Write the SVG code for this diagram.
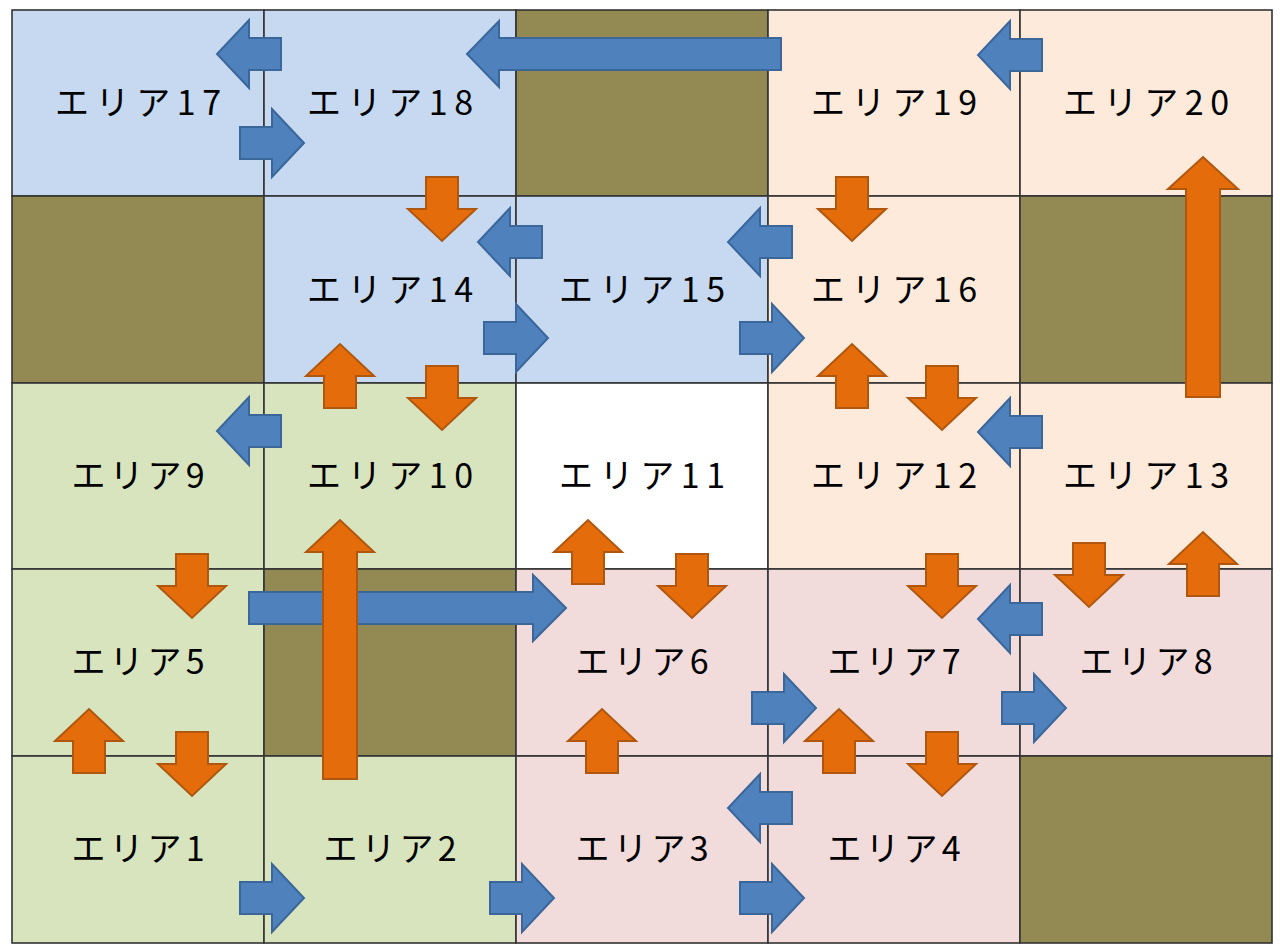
<svg xmlns="http://www.w3.org/2000/svg" xmlns:xlink="http://www.w3.org/1999/xlink" width="1280" height="950" viewBox="0 0 1280 950">
<style>
.cell{stroke:#333333;stroke-width:1.6}
.blue{fill:#C6D9F1}.peach{fill:#FDEADA}.green{fill:#D7E4BD}.pink{fill:#F2DCDB}.white{fill:#FFFFFF}.wall{fill:#938953}
.lbl{font-family:"Noto Sans CJK JP","Noto Sans",sans-serif;font-size:34px;fill:#000;text-anchor:middle}
.ab{fill:#4F81BD;stroke:#3A669A;stroke-width:2}
.ao{fill:#E46C0A;stroke:#B0570F;stroke-width:2}
</style>
<defs>
<path id="arr" d="M0,-16 H32 V-34 L64,0 L32,34 V16 H0 Z"/>
</defs>
<rect width="1280" height="950" fill="#ffffff"/>
<g id="cells">
<g id="area17"><rect class="cell blue" x="12" y="10" width="252" height="186"/><text class="lbl" x="138" y="115" textLength="166" lengthAdjust="spacing">エリア17</text></g>
<g id="area18"><rect class="cell blue" x="264" y="10" width="252" height="186"/><text class="lbl" x="390" y="115" textLength="166" lengthAdjust="spacing">エリア18</text></g>
<g id="wall-r1c3"><rect class="cell wall" x="516" y="10" width="252" height="186"/></g>
<g id="area19"><rect class="cell peach" x="768" y="10" width="252" height="186"/><text class="lbl" x="894" y="115" textLength="166" lengthAdjust="spacing">エリア19</text></g>
<g id="area20"><rect class="cell peach" x="1020" y="10" width="252" height="186"/><text class="lbl" x="1146" y="115" textLength="166" lengthAdjust="spacing">エリア20</text></g>

<g id="wall-r2c1"><rect class="cell wall" x="12" y="196" width="252" height="187"/></g>
<g id="area14"><rect class="cell blue" x="264" y="196" width="252" height="187"/><text class="lbl" x="390" y="302" textLength="166" lengthAdjust="spacing">エリア14</text></g>
<g id="area15"><rect class="cell blue" x="516" y="196" width="252" height="187"/><text class="lbl" x="642" y="302" textLength="166" lengthAdjust="spacing">エリア15</text></g>
<g id="area16"><rect class="cell peach" x="768" y="196" width="252" height="187"/><text class="lbl" x="894" y="302" textLength="166" lengthAdjust="spacing">エリア16</text></g>
<g id="wall-r2c5"><rect class="cell wall" x="1020" y="196" width="252" height="187"/></g>

<g id="area9"><rect class="cell green" x="12" y="383" width="252" height="186"/><text class="lbl" x="138" y="488" textLength="133" lengthAdjust="spacing">エリア9</text></g>
<g id="area10"><rect class="cell green" x="264" y="383" width="252" height="186"/><text class="lbl" x="390" y="488" textLength="166" lengthAdjust="spacing">エリア10</text></g>
<g id="area11"><rect class="cell white" x="516" y="383" width="252" height="186"/><text class="lbl" x="642" y="488" textLength="166" lengthAdjust="spacing">エリア11</text></g>
<g id="area12"><rect class="cell peach" x="768" y="383" width="252" height="186"/><text class="lbl" x="894" y="488" textLength="166" lengthAdjust="spacing">エリア12</text></g>
<g id="area13"><rect class="cell peach" x="1020" y="383" width="252" height="186"/><text class="lbl" x="1146" y="488" textLength="166" lengthAdjust="spacing">エリア13</text></g>

<g id="area5"><rect class="cell green" x="12" y="569" width="252" height="187"/><text class="lbl" x="138" y="674" textLength="133" lengthAdjust="spacing">エリア5</text></g>
<g id="wall-r4c2"><rect class="cell wall" x="264" y="569" width="252" height="187"/></g>
<g id="area6"><rect class="cell pink" x="516" y="569" width="252" height="187"/><text class="lbl" x="642" y="674" textLength="133" lengthAdjust="spacing">エリア6</text></g>
<g id="area7"><rect class="cell pink" x="768" y="569" width="252" height="187"/><text class="lbl" x="894" y="674" textLength="133" lengthAdjust="spacing">エリア7</text></g>
<g id="area8"><rect class="cell pink" x="1020" y="569" width="252" height="187"/><text class="lbl" x="1146" y="674" textLength="133" lengthAdjust="spacing">エリア8</text></g>

<g id="area1"><rect class="cell green" x="12" y="756" width="252" height="187"/><text class="lbl" x="138" y="861" textLength="133" lengthAdjust="spacing">エリア1</text></g>
<g id="area2"><rect class="cell green" x="264" y="756" width="252" height="187"/><text class="lbl" x="390" y="861" textLength="133" lengthAdjust="spacing">エリア2</text></g>
<g id="area3"><rect class="cell pink" x="516" y="756" width="252" height="187"/><text class="lbl" x="642" y="861" textLength="133" lengthAdjust="spacing">エリア3</text></g>
<g id="area4"><rect class="cell pink" x="768" y="756" width="252" height="187"/><text class="lbl" x="894" y="861" textLength="133" lengthAdjust="spacing">エリア4</text></g>
<g id="wall-r5c5"><rect class="cell wall" x="1020" y="756" width="252" height="187"/></g>
</g>

<g id="connectors">
<use xlink:href="#arr" class="ab" transform="translate(281,54) rotate(180)"/>
<use xlink:href="#arr" class="ab" transform="translate(240,143)"/>
<path class="ab" d="M0,-16 H282 V-33 L314,0 L282,33 V16 H0 Z" transform="translate(781,54) rotate(180)"/>
<use xlink:href="#arr" class="ab" transform="translate(1042,55) rotate(180)"/>
<use xlink:href="#arr" class="ab" transform="translate(542,242) rotate(180)"/>
<use xlink:href="#arr" class="ab" transform="translate(792,242) rotate(180)"/>
<use xlink:href="#arr" class="ab" transform="translate(484,338)"/>
<use xlink:href="#arr" class="ab" transform="translate(740,338)"/>
<use xlink:href="#arr" class="ab" transform="translate(281,431) rotate(180)"/>
<use xlink:href="#arr" class="ab" transform="translate(1042,432) rotate(180)"/>
<path class="ab" d="M0,-16 H284 V-33 L317,0 L284,33 V16 H0 Z" transform="translate(249,608)"/>
<use xlink:href="#arr" class="ab" transform="translate(1042,619) rotate(180)"/>
<use xlink:href="#arr" class="ab" transform="translate(752,708)"/>
<use xlink:href="#arr" class="ab" transform="translate(1002,708)"/>
<use xlink:href="#arr" class="ab" transform="translate(792,808) rotate(180)"/>
<use xlink:href="#arr" class="ab" transform="translate(240,898)"/>
<use xlink:href="#arr" class="ab" transform="translate(490,898)"/>
<use xlink:href="#arr" class="ab" transform="translate(740,898)"/>
<use xlink:href="#arr" class="ao" transform="translate(442,177) rotate(90)"/>
<use xlink:href="#arr" class="ao" transform="translate(852,177) rotate(90)"/>
<use xlink:href="#arr" class="ao" transform="translate(340,408) rotate(-90)"/>
<use xlink:href="#arr" class="ao" transform="translate(442,366) rotate(90)"/>
<use xlink:href="#arr" class="ao" transform="translate(852,408) rotate(-90)"/>
<use xlink:href="#arr" class="ao" transform="translate(942,366) rotate(90)"/>
<path class="ao" d="M0,-17 H208 V-35 L240,0 L208,35 V17 H0 Z" transform="translate(1203,397) rotate(-90)"/>
<path class="ao" d="M0,-17 H227 V-34 L259,0 L227,34 V17 H0 Z" transform="translate(340,779) rotate(-90)"/>
<use xlink:href="#arr" class="ao" transform="translate(192,554) rotate(90)"/>
<use xlink:href="#arr" class="ao" transform="translate(588,584) rotate(-90)"/>
<use xlink:href="#arr" class="ao" transform="translate(692,554) rotate(90)"/>
<use xlink:href="#arr" class="ao" transform="translate(942,554) rotate(90)"/>
<use xlink:href="#arr" class="ao" transform="translate(1089,543) rotate(90)"/>
<use xlink:href="#arr" class="ao" transform="translate(1203,596) rotate(-90)"/>
<use xlink:href="#arr" class="ao" transform="translate(89,773) rotate(-90)"/>
<use xlink:href="#arr" class="ao" transform="translate(192,732) rotate(90)"/>
<use xlink:href="#arr" class="ao" transform="translate(602,773) rotate(-90)"/>
<use xlink:href="#arr" class="ao" transform="translate(839,773) rotate(-90)"/>
<use xlink:href="#arr" class="ao" transform="translate(942,732) rotate(90)"/>
</g>
</svg>
